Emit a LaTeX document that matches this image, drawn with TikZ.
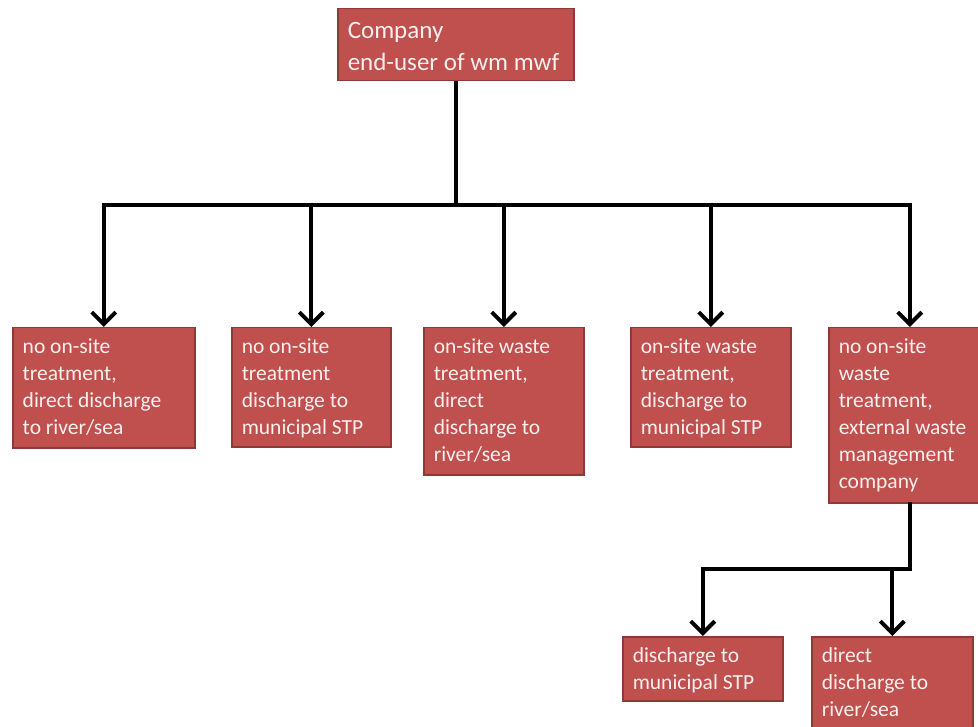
\documentclass[tikz,border=0pt]{standalone}
\usepackage{fontspec}
\setmainfont{Carlito}
\usetikzlibrary{arrows.meta}
\definecolor{boxfill}{HTML}{C0504D}
\definecolor{boxline}{HTML}{8C3A38}
\definecolor{boxtext}{HTML}{FBEFEF}
\newcommand{\boxtxt}[3]{\parbox[t][#2pt][t]{#1pt}{\raggedright\rule{0pt}{26pt}#3}}
\begin{document}
\begin{tikzpicture}[x=1pt,y=-1pt,
  box/.style={draw=boxline, fill=boxfill, line width=1.5pt, anchor=north west,
    inner xsep=10pt, inner ysep=0pt, text=boxtext,
    font=\fontsize{21.5}{27}\selectfont},
  link/.style={draw=black, line width=4pt},
  arr/.style={link, -{Straight Barb[length=12pt,width=24pt]}}]
\useasboundingbox (0,0) rectangle (978,727);

\node[box, font=\fontsize{25}{32}\selectfont] (top) at (337,8)
  {\parbox[t][72pt][t]{216pt}{\raggedright\rule{0pt}{30pt}Company\\end-user of wm mwf}};

\node[box] (b1) at (12,327) {\boxtxt{162}{120}{no on-site\\treatment,\\direct discharge\\to river/sea}};
\node[box] (b2) at (231,327) {\boxtxt{139}{119}{no on-site\\treatment\\discharge to\\municipal STP}};
\node[box] (b3) at (423,327) {\boxtxt{140}{147}{on-site waste\\treatment,\\direct\\discharge to\\river/sea}};
\node[box] (b4) at (630,327) {\boxtxt{140}{119}{on-site waste\\treatment,\\discharge to\\municipal STP}};
\node[box] (b5) at (828,327) {\boxtxt{142}{175}{no on-site\\waste\\treatment,\\external waste\\management\\company}};
\node[box] (b6) at (622,636) {\boxtxt{140}{64}{discharge to\\municipal STP}};
\node[box] (b7) at (811,636) {\boxtxt{141}{95}{direct\\discharge to\\river/sea}};

% first level connectors
\path (b1.north) ++(0,-122) coordinate (barL);
\path (b5.north) ++(0,-122) coordinate (barR);
\draw[link] (top.south) -- (top.south |- barL);
\draw[link, line cap=rect] (barL) -- (barR);
\draw[arr] (barL) -- (b1.north);
\draw[arr] (b2.north |- barL) -- (b2.north);
\draw[arr] (b3.north |- barL) -- (b3.north);
\draw[arr] (b4.north |- barL) -- (b4.north);
\draw[arr] (barR) -- (b5.north);

% second level connectors
\path (b5.south) ++(0,65) coordinate (j2);
\path (b6.north |- j2) coordinate (j2L);
\draw[link, line cap=rect] (b5.south) -- (j2) -- (j2L);
\draw[arr] (j2L) -- (b6.north);
\draw[arr] (b7.north |- j2) -- (b7.north);
\end{tikzpicture}
\end{document}
